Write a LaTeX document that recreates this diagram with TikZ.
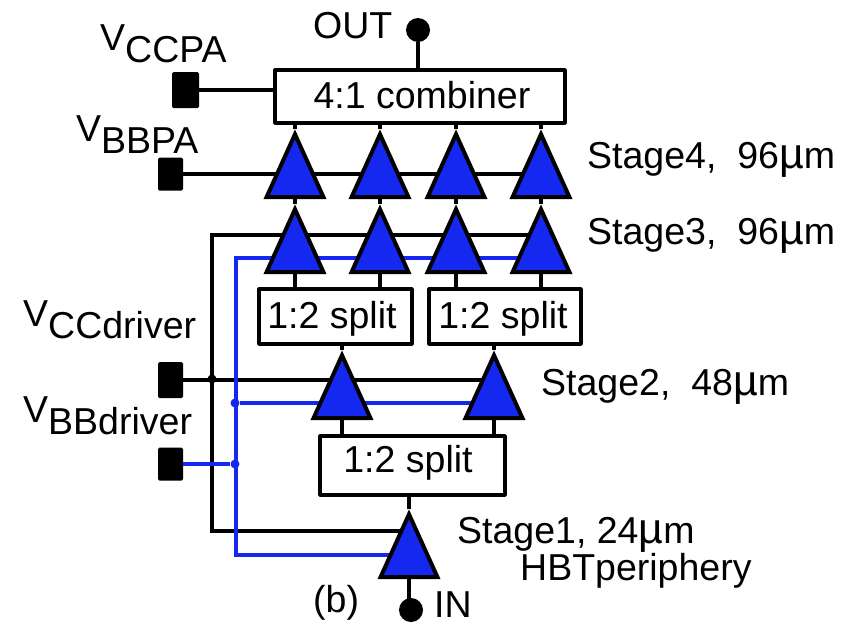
\documentclass[tikz,border=0pt]{standalone}
\usepackage{fontspec}
\setmainfont{Liberation Sans}
\usepackage{xcolor}
\usetikzlibrary{backgrounds}
\usetikzlibrary{shapes}
\definecolor{ampblue}{RGB}{20,40,240}
\tikzset{amp/.style={isosceles triangle,shape border rotate=90,isosceles triangle stretches,
 minimum width=57,minimum height=63,inner sep=0,draw=black,line width=4,fill=ampblue,anchor=apex,miter limit=10},
 blockbox/.style={draw=black,line width=3.8,fill=white,inner sep=0,anchor=north west,rounded corners=.5},
 pad/.style={fill=black,inner sep=0,rounded corners=1.5},
 term/.style={circle,fill=black,inner sep=0,minimum size=24},
 junct/.style={circle,inner sep=0,minimum size=9},
 wire/.style={line width=3.5,black},
 biasline/.style={line width=3.5,ampblue},
 lbl/.style={anchor=base west,inner sep=0,font=\fontsize{37.5}{40}\selectfont},
 }
\newcommand{\subtxt}[1]{\raisebox{-12pt}{#1}}
\newcommand{\micro}{{\fontsize{43}{40}\selectfont\textmu}}

\begin{document}
\begin{tikzpicture}[x=1pt,y=-1pt]
        \useasboundingbox (0, 0) rectangle (861, 625);
        % blocks
        \node[blockbox, minimum width=290, minimum height=53] (comb) at (273, 68) {};
        \node[blockbox, minimum width=153, minimum height=55] (splitl) at (257, 287) {};
        \node[blockbox, minimum width=152, minimum height=55] (splitr) at (427, 287) {};
        \node[blockbox, minimum width=185, minimum height=59] (splitb) at (318, 434) {};
        % stages
        \node[amp] (sa) at (295, 129) {};
        \node[amp] (sb) at (380, 129) {};
        \node[amp] (sc) at (456, 129) {};
        \node[amp] (sd) at (541, 129) {};
        \node[amp] (ta) at (295, 204) {};
        \node[amp] (tb) at (380, 204) {};
        \node[amp] (tc) at (456, 204) {};
        \node[amp] (td) at (541, 204) {};
        \node[amp] (da) at (342, 350) {};
        \node[amp] (db) at (494, 350) {};
        \node[amp] (ia) at (409, 509) {};
        % terminals
        \node[term] (out) at (418, 30) {};
        \node[term] (in) at (411, 610) {};
        \node[pad, minimum width=27, minimum height=36] (vccpa) at (185.5, 90) {};
        \node[pad, minimum width=25, minimum height=33] (vbbpa) at (170.5, 174) {};
        \node[pad, minimum width=25, minimum height=36] (vccd) at (170.5, 380) {};
        \node[pad, minimum width=25, minimum height=33] (vbbd) at (170.5, 464) {};
        \node[junct, fill=black] (jblack) at (212, 379) {};
        \node[junct, fill=ampblue] (jhi) at (235, 403) {};
        \node[junct, fill=ampblue] (jlo) at (235, 464) {};
        \coordinate (blackt) at (212, 235);
        \coordinate (blackb) at (212, 531);
        \coordinate (bluet) at (236, 258);
        \coordinate (blueb) at (236, 555);
        \begin{scope}[on background layer]
            \draw[wire] (out) -- (out |- comb.north);
            \draw[wire] (vccpa) -- (vccpa -| comb.west);
            \draw[wire] (vbbpa) -- (vbbpa -| sd);
            \foreach \nm/\up in {sa/comb, sb/comb, sc/comb, sd/comb, ta/sa, tb/sb, tc/sc, td/sd}
                \draw[wire] (\nm) -- (\nm |- \up.south);
            \foreach \nm/\dn in {ta/splitl, tb/splitl, tc/splitr, td/splitr, da/splitb, db/splitb}
                \draw[wire] (\nm) -- (\nm |- \dn.north);
            \draw[wire] (da) -- (da |- splitl.south);
            \draw[wire] (db) -- (db |- splitr.south);
            \draw[wire] (ia) -- (ia |- splitb.south);
            \draw[wire] (ia) -- (ia |- in);
            \draw[wire] (vccd) -- (vccd -| db);
            \draw[wire, line cap=rect] (td |- blackt) -- (blackt) -- (blackb) -- (blackb -| ia);
            \draw[biasline, line cap=rect] (td |- bluet) -- (bluet) -- (blueb) -- (blueb -| ia);
            \draw[biasline] (jhi) -- (jhi -| db);
        \end{scope}
        \draw[biasline] (vbbd.east) -- (jlo);
        % labels
        \node[lbl] (vccpat) at (100, 50) {V\subtxt{CCPA}};
        \node[lbl] (vbbpat) at (76, 141) {V\subtxt{BBPA}};
        \node[lbl] (vccdt) at (23, 326) {V\subtxt{CCdriver}};
        \node[lbl] (vbbdt) at (23, 422) {V\subtxt{BBdriver}};
        \node[lbl] (outt) at (313, 38) {OUT};
        \node[lbl] (intxt) at (434, 617) {IN};
        \node[lbl] (bt) at (313, 612) {(b)};
        \node[lbl, anchor=base] (combt) at (422, 108) {4:1 combiner};
        \node[lbl, anchor=base] (splitlt) at (332, 328) {1:2 split};
        \node[lbl, anchor=base] (splitrt) at (503, 328) {1:2 split};
        \node[lbl, anchor=base] (splitbt) at (408, 472) {1:2 split};
        \node[lbl] (st4) at (587, 168) {Stage4,\ \ 96\micro m};
        \node[lbl] (st3) at (587, 244) {Stage3,\ \ 96\micro m};
        \node[lbl] (st2) at (541, 395) {Stage2,\ \ 48\micro m};
        \node[lbl] (st1) at (457, 543) {Stage1, 24\micro m};
        \node[lbl] (hbt) at (520, 580) {HBTperiphery};
    \end{tikzpicture}
\end{document}
